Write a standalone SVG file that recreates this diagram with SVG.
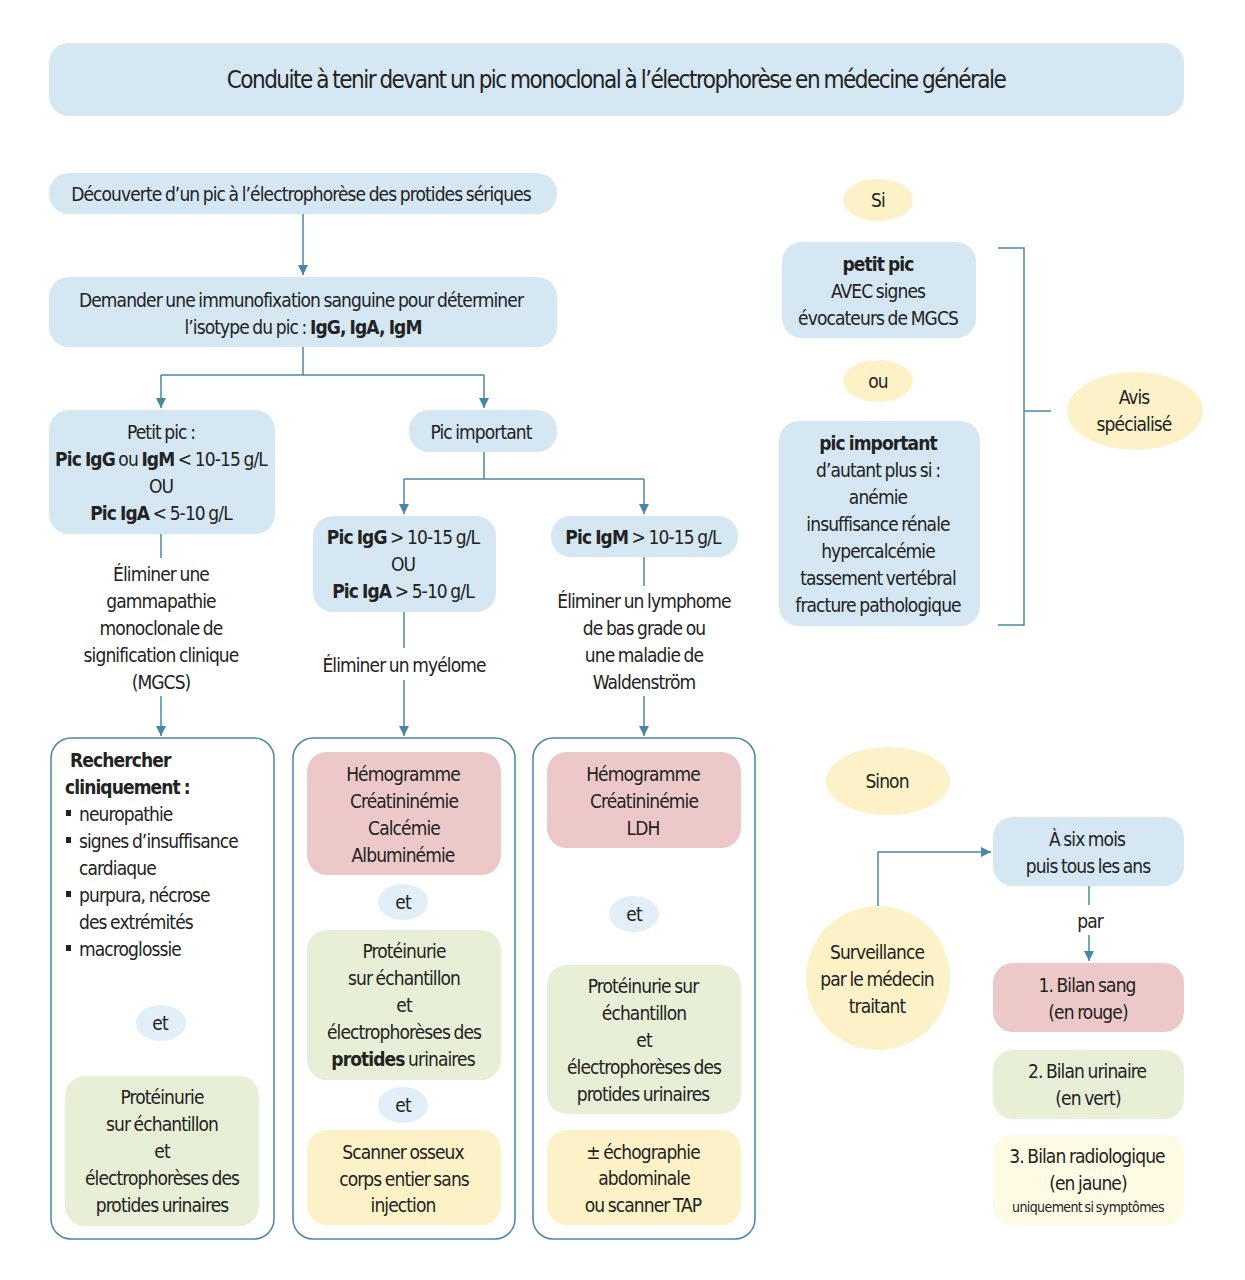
<svg xmlns="http://www.w3.org/2000/svg" width="1245" height="1280" viewBox="0 0 1245 1280">
<defs>
<style>
text{font-family:"DejaVu Sans Condensed","Liberation Sans",sans-serif;font-size:19px;fill:#222;text-anchor:middle;dominant-baseline:central;letter-spacing:-0.9px;word-spacing:-1px}
.b{font-weight:bold}
.l{text-anchor:start}
.blue{fill:#d4e7f3}
.red{fill:#ecc9c8}
.green{fill:#e8efd7}
.yel{fill:#fdf2c7}
.lyel{fill:#fefae4}
.et{fill:#e3eff8}
.out{fill:none;stroke:#4a86a8;stroke-width:1.5}
.ln{fill:none;stroke:#4a86a8;stroke-width:1.5}
</style>
<marker id="ah" viewBox="0 0 10 10" refX="10" refY="5" markerWidth="10" markerHeight="10" markerUnits="userSpaceOnUse" orient="auto">
<path d="M0,0 L10,5 L0,10 z" fill="#4a86a8"/>
</marker>
</defs>
<rect width="1245" height="1280" fill="#fff"/>

<g id="title">
<rect x="49" y="43" width="1135" height="73" rx="20" class="blue"/>
<text x="616" y="80" style="font-size:24px;letter-spacing:-1.5px;word-spacing:-1px">Conduite à tenir devant un pic monoclonal à l’électrophorèse en médecine générale</text>
</g>

<g id="connectors">
<path class="ln" d="M303,214 V275" marker-end="url(#ah)"/>
<path class="ln" d="M303,347 V375 M161,375 H484"/>
<path class="ln" d="M161,375 V408" marker-end="url(#ah)"/>
<path class="ln" d="M484,375 V408" marker-end="url(#ah)"/>
<path class="ln" d="M484,452 V479 M404,479 H644"/>
<path class="ln" d="M404,479 V514" marker-end="url(#ah)"/>
<path class="ln" d="M644,479 V514" marker-end="url(#ah)"/>
<path class="ln" d="M161,534 V558"/>
<path class="ln" d="M161,696 V736" marker-end="url(#ah)"/>
<path class="ln" d="M404,612 V648"/>
<path class="ln" d="M404,680 V736" marker-end="url(#ah)"/>
<path class="ln" d="M644,557 V586"/>
<path class="ln" d="M644,696 V736" marker-end="url(#ah)"/>
<path class="ln" d="M998,248 H1024 V625 H998 M1024,411 H1051"/>
<path class="ln" d="M878,907 V852 H991" marker-end="url(#ah)"/>
<path class="ln" d="M1089,886 V905"/>
<path class="ln" d="M1089,935 V961" marker-end="url(#ah)"/>
</g>

<g id="decouverte">
<rect x="49" y="173" width="508" height="41" rx="20" class="blue"/>
<text x="301" y="194">Découverte d’un pic à l’électrophorèse des protides sériques</text>
</g>

<g id="demander">
<rect x="49" y="277" width="508" height="70" rx="20" class="blue"/>
<text x="301" y="300">Demander une immunofixation sanguine pour déterminer</text>
<text x="303" y="327">l’isotype du pic : <tspan class="b">IgG, IgA, IgM</tspan></text>
</g>

<g id="petitpic">
<rect x="49" y="410" width="226" height="124" rx="20" class="blue"/>
<text x="161" y="432">Petit pic :</text>
<text x="161" y="459"><tspan class="b">Pic IgG</tspan> ou <tspan class="b">IgM</tspan> &lt; 10-15 g/L</text>
<text x="161" y="486">OU</text>
<text x="161" y="513"><tspan class="b">Pic IgA</tspan> &lt; 5-10 g/L</text>
</g>

<g id="picimportant">
<rect x="409" y="410" width="148" height="42" rx="20" class="blue"/>
<text x="481" y="432">Pic important</text>
</g>

<g id="picigg">
<rect x="313" y="516" width="183" height="96" rx="20" class="blue"/>
<text x="403" y="537"><tspan class="b">Pic IgG</tspan> &gt; 10-15 g/L</text>
<text x="403" y="564">OU</text>
<text x="403" y="591"><tspan class="b">Pic IgA</tspan> &gt; 5-10 g/L</text>
</g>

<g id="picigm">
<rect x="551" y="516" width="187" height="41" rx="20" class="blue"/>
<text x="643" y="537"><tspan class="b">Pic IgM</tspan> &gt; 10-15 g/L</text>
</g>

<g id="elim-mgcs">
<text x="161" y="574">Éliminer une</text>
<text x="161" y="601">gammapathie</text>
<text x="161" y="628">monoclonale de</text>
<text x="161" y="655">signification clinique</text>
<text x="161" y="682">(MGCS)</text>
</g>

<g id="elim-myelome">
<text x="404" y="665">Éliminer un myélome</text>
</g>

<g id="elim-lymphome">
<text x="644" y="601">Éliminer un lymphome</text>
<text x="644" y="628">de bas grade ou</text>
<text x="644" y="655">une maladie de</text>
<text x="644" y="682">Waldenström</text>
</g>

<g id="col1">
<rect x="51" y="738" width="223" height="501" rx="20" class="out"/>
<text x="70" y="760" class="b l">Rechercher</text>
<text x="65" y="787" class="b l">cliniquement :</text>
<rect x="66" y="810" width="5" height="6" fill="#222"/>
<text x="79" y="814" class="l">neuropathie</text>
<rect x="66" y="837" width="5" height="6" fill="#222"/>
<text x="79" y="841" class="l">signes d’insuffisance</text>
<text x="79" y="868" class="l">cardiaque</text>
<rect x="66" y="891" width="5" height="6" fill="#222"/>
<text x="79" y="895" class="l">purpura, nécrose</text>
<text x="79" y="922" class="l">des extrémités</text>
<rect x="66" y="945" width="5" height="6" fill="#222"/>
<text x="79" y="949" class="l">macroglossie</text>
<ellipse cx="161" cy="1023" rx="25" ry="18" class="et"/>
<text x="160" y="1023">et</text>
<rect x="65" y="1076" width="194" height="150" rx="20" class="green"/>
<text x="162" y="1097">Protéinurie</text>
<text x="162" y="1124">sur échantillon</text>
<text x="162" y="1151">et</text>
<text x="162" y="1178">électrophorèses des</text>
<text x="162" y="1205">protides urinaires</text>
</g>

<g id="col2">
<rect x="293" y="738" width="222" height="501" rx="20" class="out"/>
<rect x="307" y="752" width="194" height="123" rx="20" class="red"/>
<text x="403" y="774">Hémogramme</text>
<text x="404" y="801">Créatininémie</text>
<text x="404" y="828">Calcémie</text>
<text x="403" y="855">Albuminémie</text>
<ellipse cx="403" cy="902" rx="25" ry="18" class="et"/>
<text x="403" y="902">et</text>
<rect x="307" y="930" width="194" height="150" rx="20" class="green"/>
<text x="404" y="951">Protéinurie</text>
<text x="404" y="978">sur échantillon</text>
<text x="404" y="1005">et</text>
<text x="404" y="1032">électrophorèses des</text>
<text x="403" y="1059"><tspan class="b">protides</tspan> urinaires</text>
<ellipse cx="403" cy="1105" rx="25" ry="18" class="et"/>
<text x="403" y="1105">et</text>
<rect x="307" y="1130" width="194" height="95" rx="20" class="yel"/>
<text x="403" y="1152">Scanner osseux</text>
<text x="404" y="1179">corps entier sans</text>
<text x="403" y="1205">injection</text>
</g>

<g id="col3">
<rect x="533" y="738" width="222" height="501" rx="20" class="out"/>
<rect x="547" y="752" width="194" height="96" rx="20" class="red"/>
<text x="643" y="774">Hémogramme</text>
<text x="644" y="801">Créatininémie</text>
<text x="643" y="828">LDH</text>
<ellipse cx="634" cy="914" rx="25" ry="18" class="et"/>
<text x="634" y="914">et</text>
<rect x="547" y="965" width="194" height="149" rx="20" class="green"/>
<text x="643" y="986">Protéinurie sur</text>
<text x="644" y="1013">échantillon</text>
<text x="644" y="1040">et</text>
<text x="644" y="1067">électrophorèses des</text>
<text x="643" y="1094">protides urinaires</text>
<rect x="547" y="1130" width="194" height="95" rx="20" class="yel"/>
<text x="643" y="1152">± échographie</text>
<text x="644" y="1178">abdominale</text>
<text x="643" y="1205">ou scanner TAP</text>
</g>

<g id="si">
<ellipse cx="878" cy="200" rx="35" ry="21" class="yel"/>
<text x="878" y="200">Si</text>
</g>

<g id="petitpic-avec">
<rect x="782" y="242" width="194" height="96" rx="20" class="blue"/>
<text x="878" y="264" class="b">petit pic</text>
<text x="878" y="291">AVEC signes</text>
<text x="878" y="318">évocateurs de MGCS</text>
</g>

<g id="ou">
<ellipse cx="878" cy="381" rx="35" ry="21" class="yel"/>
<text x="878" y="381">ou</text>
</g>

<g id="picimportant-si">
<rect x="779" y="421" width="201" height="205" rx="20" class="blue"/>
<text x="878" y="443" class="b">pic important</text>
<text x="878" y="470">d’autant plus si :</text>
<text x="878" y="497">anémie</text>
<text x="878" y="524">insuffisance rénale</text>
<text x="878" y="551">hypercalcémie</text>
<text x="878" y="578">tassement vertébral</text>
<text x="878" y="605">fracture pathologique</text>
</g>

<g id="avis">
<ellipse cx="1135" cy="411" rx="68" ry="39" class="yel"/>
<text x="1134" y="397">Avis</text>
<text x="1134" y="424">spécialisé</text>
</g>

<g id="sinon">
<ellipse cx="888" cy="781" rx="62" ry="34" class="yel"/>
<text x="887" y="781">Sinon</text>
</g>

<g id="surveillance">
<circle cx="878" cy="978" r="72" class="yel"/>
<text x="877" y="952">Surveillance</text>
<text x="877" y="979">par le médecin</text>
<text x="877" y="1006">traitant</text>
</g>

<g id="sixmois">
<rect x="993" y="817" width="191" height="69" rx="20" class="blue"/>
<text x="1087" y="839">À six mois</text>
<text x="1088" y="866">puis tous les ans</text>
</g>

<g id="par">
<text x="1090" y="921">par</text>
</g>

<g id="bilan-sang">
<rect x="993" y="963" width="191" height="69" rx="20" class="red"/>
<text x="1087" y="985">1. Bilan sang</text>
<text x="1088" y="1012">(en rouge)</text>
</g>

<g id="bilan-urinaire">
<rect x="993" y="1050" width="191" height="69" rx="20" class="green"/>
<text x="1087" y="1071">2. Bilan urinaire</text>
<text x="1088" y="1098">(en vert)</text>
</g>

<g id="bilan-radio">
<rect x="993" y="1135" width="191" height="90" rx="20" class="lyel"/>
<text x="1087" y="1156">3. Bilan radiologique</text>
<text x="1088" y="1183">(en jaune)</text>
<text x="1088" y="1207" style="font-size:14px;letter-spacing:-0.6px;word-spacing:-1px">uniquement si symptômes</text>
</g>
</svg>
